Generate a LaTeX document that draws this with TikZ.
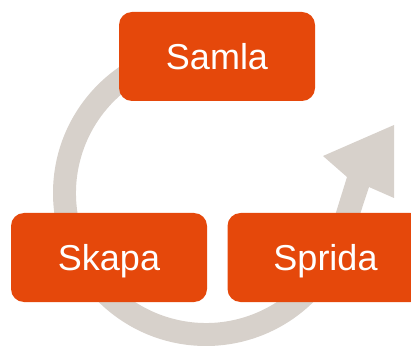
\documentclass[tikz,border=0pt]{standalone}
\usepackage{fontspec}
\setmainfont{Liberation Sans}
\usepackage{xcolor}
\usepackage{tikz}
\usetikzlibrary{calc}

\definecolor{stageorange}{RGB}{229,72,11}
\definecolor{cyclegray}{RGB}{215,209,203}

\begin{document}
\begin{tikzpicture}[x=1pt, y=1pt,
	stage/.style={fill=stageorange, text=white, draw=none, rounded corners=13pt, minimum width=196pt, minimum height=89pt, inner sep=0pt, text height=25.8pt, text depth=0pt, font=\fontsize{36}{43}\selectfont}]
	\clip (0,0) rectangle (411,345);
	\useasboundingbox (0,0) rectangle (411,345);
	\coordinate (c) at (206,152);
	% the cycle arrow behind the boxes
	\fill[cyclegray] ($(c)+(90:153pt)$) arc[start angle=90, end angle=340, radius=153pt]
		-- (369,158) -- (394,147) -- (394,220) -- (323,189) -- (347,168)
		-- ($(c)+(345:130pt)$) arc[start angle=345, end angle=90, radius=130pt] -- cycle;
	% the three stages
	\node[stage] (samla) at (217,288.5) {Samla};
	\node[stage] (skapa) at (109,87.5) {Skapa};
	\node[stage] (sprida) at (325.5,87.5) {Sprida};
\end{tikzpicture}
\end{document}
